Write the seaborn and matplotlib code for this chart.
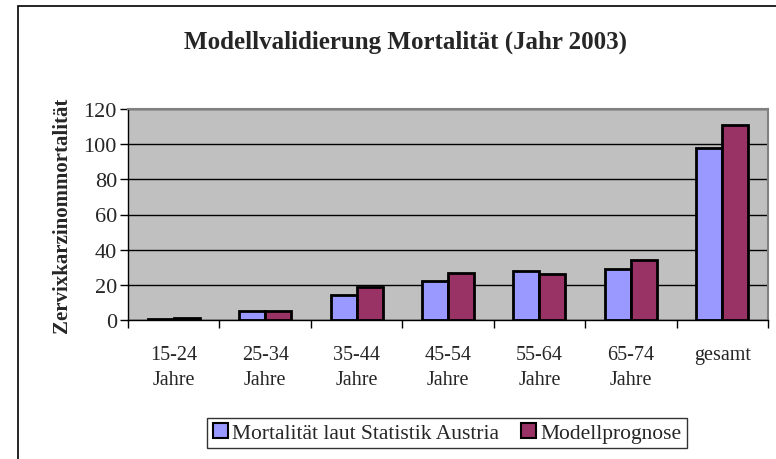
import pandas as pd
import numpy as np
import matplotlib
matplotlib.use('Agg')
import matplotlib.pyplot as plt
import matplotlib.patches as mpatches
import seaborn as sns

# data
categories = ['15-24\nJahre', '25-34\nJahre', '35-44\nJahre', '45-54\nJahre',
              '55-64\nJahre', '65-74\nJahre', 'gesamt']
statistik = [0.5, 5, 14, 22, 28, 29, 98]
prognose = [1, 5, 19, 26.5, 26, 34, 111]
series = ['Mortalität laut Statistik Austria', 'Modellprognose']
colors = ['#9999FF', '#993366']

df = pd.DataFrame({
    'Kategorie': categories * 2,
    'Wert': statistik + prognose,
    'Serie': [series[0]] * len(categories) + [series[1]] * len(categories),
})

sns.set_style('white')
plt.rcParams['font.family'] = ['Liberation Serif', 'DejaVu Serif']

fig = plt.figure(figsize=(7.76, 4.6), dpi=100)
ax = fig.add_axes([128 / 776, 1 - 321 / 460, 640 / 776, 211 / 460])
ax.set_facecolor('#C0C0C0')

sns.barplot(data=df, x='Kategorie', y='Wert', hue='Serie', palette=colors,
            width=0.57, edgecolor='black', linewidth=2, saturation=1,
            ax=ax, legend=False)

ax.set_ylim(0, 120)
ax.set_yticks(np.arange(0, 121, 20))
ax.set_xlim(-0.5, len(categories) - 0.5)
ax.yaxis.grid(True, color='black', linewidth=1)
ax.set_axisbelow(True)

for s in ['top', 'right']:
    ax.spines[s].set_color('#808080')
    ax.spines[s].set_linewidth(1.5)
for s in ['left', 'bottom']:
    ax.spines[s].set_color('black')
    ax.spines[s].set_linewidth(1)

ax.tick_params(axis='y', direction='out', length=6, width=1, color='black',
               labelsize=16, pad=2, left=True)
ax.tick_params(axis='x', which='major', length=0, labelsize=14.5, pad=18)
ax.set_xticks(np.arange(-0.5, len(categories), 1), minor=True)
ax.tick_params(axis='x', which='minor', direction='out', length=6, width=1,
               color='black', bottom=True)
for lbl in ax.get_xticklabels():
    lbl.set_linespacing(1.45)

ax.set_xlabel('')
ax.set_ylabel('Zervixkarzinommortalität', fontsize=15, fontweight='bold',
              labelpad=8)
fig.text(405 / 776, 1 - 42 / 460, 'Modellvalidierung Mortalität (Jahr 2003)',
         ha='center', va='center', fontsize=18, fontweight='bold')

handles = [mpatches.Patch(facecolor=c, edgecolor='black', linewidth=1.5)
           for c in colors]
leg = fig.legend(handles, series, loc='center',
                 bbox_to_anchor=(447 / 776, 1 - 434 / 460), ncol=2,
                 fontsize=15.5, frameon=True, fancybox=False, edgecolor='black',
                 handlelength=0.7, handleheight=0.7, handletextpad=0.2,
                 columnspacing=1.0, borderpad=0.25, borderaxespad=0)
leg.get_frame().set_linewidth(1)

# outer chart frame (cut off at the right and bottom)
frame = mpatches.Rectangle((18 / 776, -0.1), 2, 1.1 - 7 / 460,
                           transform=fig.transFigure, fill=False,
                           edgecolor='black', linewidth=1.2, clip_on=False)
fig.patches.append(frame)

fig.savefig('out.png', dpi=100)
